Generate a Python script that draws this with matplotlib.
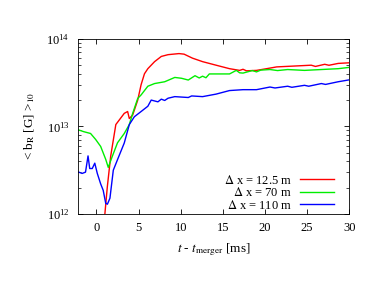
import numpy as np
import matplotlib
matplotlib.use("Agg")
from matplotlib import pyplot as plt

plt.rcParams['font.family'] = ['Liberation Serif', 'DejaVu Serif']
plt.rcParams['mathtext.fontset'] = 'stix'

# values in units of 1e12 G
t_red = [1.0, 1.29, 1.69, 2.3, 3.3, 3.7, 3.9, 4.3, 4.9, 5.3, 5.7, 6.1, 6.9, 7.7, 8.5, 9.8, 10.4,
         11.4, 12.6, 14.2, 15.8, 17.0, 17.4, 17.8, 19.0, 20.2, 21.4, 23.5, 25.5, 26.0, 27.1,
         27.6, 28.7, 30.5]
b_red = [1.0, 2.04, 4.57, 10.5, 14.1, 14.8, 12.3, 13.5, 20.0, 30.0, 40.0, 45.7, 55.0, 63.1, 66.1, 68.0, 67.0,
         60.3, 55.0, 50.1, 45.7, 43.7, 45.0, 43.2, 43.7, 45.7, 47.9, 49.0, 50.1, 48.5, 51.3,
         50.0, 52.5, 53.7]

t_green = [-2.1, -1.5, -0.7, -0.1, 0.5, 1.1, 1.4, 1.9, 2.5, 3.3, 3.9, 4.3, 4.9, 5.3, 6.1, 6.9,
           8.1, 9.3, 10.1, 10.9, 11.7, 12.2, 12.6, 13.0, 13.4, 14.6, 15.8, 16.6, 17.0, 17.4,
           18.5, 19.0, 19.5, 20.6, 21.5, 22.7, 24.7, 26.7, 28.7, 30.5]
b_green = [9.1, 8.7, 8.3, 7.1, 5.9, 4.2, 3.4, 4.6, 6.5, 8.3, 10.5, 14.1, 20.9, 22.9, 28.8, 30.9,
           32.4, 36.3, 35.5, 33.9, 38.0, 35.8, 37.5, 36.0, 39.8, 39.8, 39.8, 43.7, 41.0, 40.7,
           43.5, 42.0, 44.0, 44.7, 43.5, 44.7, 43.7, 44.7, 45.7, 47.9]

t_blue = [-2.1, -1.7, -1.3, -1.0, -0.8, -0.5, -0.2, 0.1, 0.5, 0.8, 1.1, 1.3, 1.6, 2.0, 2.5, 3.3,
          3.9, 4.5, 5.3, 6.1, 6.5, 7.3, 7.7, 8.1, 8.5, 9.3, 10.9, 11.3, 12.6, 14.2, 15.8, 17.4,
          19.0, 20.6, 21.2, 22.7, 23.2, 24.7, 25.2, 26.7, 27.2, 28.7, 30.5]
b_blue = [3.0, 2.9, 3.0, 4.6, 3.3, 3.3, 3.8, 2.9, 2.2, 1.86, 1.32, 1.29, 1.51, 3.16, 4.17, 6.46,
          10.5, 12.9, 14.8, 17.0, 20.0, 19.1, 20.5, 19.8, 21.0, 21.9, 21.4, 22.3, 21.9, 23.4, 25.7, 26.3,
          26.3, 28.2, 27.5, 28.8, 28.0, 29.5, 28.8, 30.9, 30.2, 32.4, 34.7]

labels = [r'$\Delta$ x = 12.5 m', r'$\Delta$ x = 70 m', r'$\Delta$ x = 110 m']

fig = plt.figure(figsize=(3.82, 2.95), dpi=100)
ax = fig.add_axes([0.204, 0.275, 0.71, 0.593])

ax.plot(t_red, np.array(b_red) * 1e12, color='#ff0000', lw=1.0, label=labels[0])
ax.plot(t_green, np.array(b_green) * 1e12, color='#00ee00', lw=1.0, label=labels[1])
ax.plot(t_blue, np.array(b_blue) * 1e12, color='#0000ff', lw=1.0, label=labels[2])

ax.set_yscale('log')
ax.set_xlim(-2.2, 30)
ax.set_ylim(1e12, 1e14)
ax.set_xticks([0, 5, 10, 15, 20, 25, 30])
ax.tick_params(which='both', direction='in', top=True, right=True, labelsize=9)
ax.tick_params(which='major', length=3.5, width=0.6, pad=6)
ax.tick_params(which='minor', length=2, width=0.5)
for s in ax.spines.values():
    s.set_linewidth(0.6)

ax.set_xlabel(r'$t$ - $t_{\mathrm{merger}}$ [ms]', fontsize=9.5, labelpad=5)
ax.set_ylabel(r'< b$_{\mathrm{R}}$ [G] >$_{10}$', fontsize=9.5, labelpad=7)

ax.legend(loc='lower right', frameon=False, fontsize=9, markerfirst=False,
          handlelength=2.7, labelspacing=-0.05, handletextpad=0.6,
          borderaxespad=0.2, bbox_to_anchor=(0.97, -0.03))

fig.savefig('out.png', dpi=100)
